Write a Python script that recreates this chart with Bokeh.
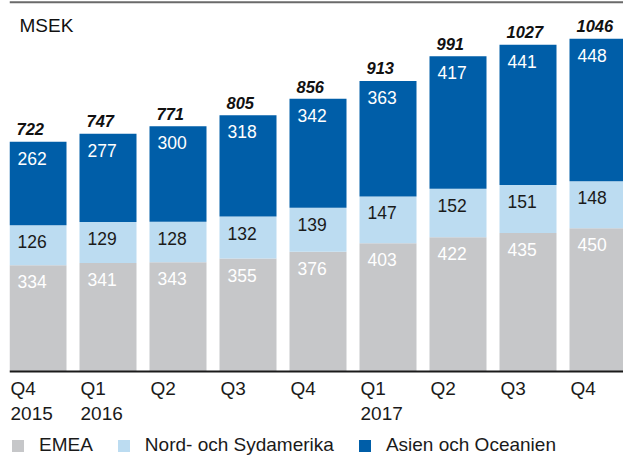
import numpy as np
from bokeh.plotting import figure
from bokeh.models import ColumnDataSource, Span, Label, Legend, LegendItem, Range1d
from bokeh.core.properties import value
from bokeh.embed import file_html
from bokeh.resources import INLINE

# ---- data ----
quarters = ["Q4", "Q1", "Q2", "Q3", "Q4", "Q1", "Q2", "Q3", "Q4"]
years = ["2015", "2016", "", "", "", "2017", "", "", ""]
emea = [334, 341, 343, 355, 376, 403, 422, 435, 450]
nord = [126, 129, 128, 132, 139, 147, 152, 151, 148]
asia = [262, 277, 300, 318, 342, 363, 417, 441, 448]
totals = [722, 747, 771, 805, 856, 913, 991, 1027, 1046]
series_names = ["EMEA", "Nord- och Sydamerika", "Asien och Oceanien"]
colors = ["#c6c7c9", "#bcdcf1", "#005ea8"]

FONT_NAME = "Liberation Sans"
FONT = value(FONT_NAME)
W_PX, H_PX = 623, 457
LEFT = 9
PITCH = 70.0
BAR_W = 57 / PITCH
K = 0.3182          # px per MSEK
BASE = 371          # baseline px from top

idx = np.arange(len(quarters))
e = np.array(emea); n = np.array(nord); a = np.array(asia)
src = ColumnDataSource(dict(
    x=idx + BAR_W / 2, xl=idx,
    EMEA=e, NORD=n, ASIA=a,
    e_top=e, n_top=e + n, a_top=e + n + a,
    e_txt=[str(v) for v in emea], n_txt=[str(v) for v in nord],
    a_txt=[str(v) for v in asia], t_txt=[str(v) for v in totals],
    tot=totals, q=quarters, yr=years,
))

p = figure(width=W_PX, height=H_PX, output_backend="svg", toolbar_location=None,
           x_range=Range1d(0, (W_PX - LEFT) / PITCH),
           y_range=Range1d(-(H_PX - BASE) / K, BASE / K),
           min_border=0, min_border_left=LEFT, min_border_right=0,
           min_border_top=0, min_border_bottom=0)
p.xaxis.visible = False
p.yaxis.visible = False
p.xgrid.grid_line_color = None
p.ygrid.grid_line_color = None
p.outline_line_color = None
p.background_fill_color = "white"
p.border_fill_color = "white"

rs = p.vbar_stack(["EMEA", "NORD", "ASIA"], x="x", width=BAR_W, source=src,
                  fill_color=colors, line_alpha=0)

common = dict(source=src, text_font=FONT, text_align="left", text_baseline="middle")
p.text(x="xl", y="e_top", text="e_txt", x_offset=8, y_offset=16.5,
       text_color="white", text_font_size="17.5px", **common)
p.text(x="xl", y="n_top", text="n_txt", x_offset=8, y_offset=16.5,
       text_color="#1a1a1a", text_font_size="17.5px", **common)
p.text(x="xl", y="a_top", text="a_txt", x_offset=8, y_offset=16.5,
       text_color="white", text_font_size="17.5px", **common)
p.text(x="xl", y="tot", text="t_txt", x_offset=7, y_offset=-12.5,
       text_color="#111111", text_font_size="16.5px", text_font_style="bold italic", **common)

# x labels
p.text(x="xl", y=0, text="q", x_offset=1, y_offset=17,
       text_color="#1a1a1a", text_font_size="19px", **common)
p.text(x="xl", y=0, text="yr", x_offset=1, y_offset=42,
       text_color="#1a1a1a", text_font_size="19px", **common)

p.add_layout(Span(location=0, dimension="width", line_color="#1a1a1a", line_width=2))
p.add_layout(Span(location=(BASE - 1.8) / K, dimension="width", line_color="#6a6a6a", line_width=2))

p.add_layout(Label(x=10, y=H_PX - 25, x_units="screen", y_units="screen", text="MSEK",
                   text_font=FONT_NAME, text_font_size="19px", text_baseline="middle",
                   text_color="#111111"))

legend = Legend(items=[LegendItem(label=nm, renderers=[r]) for nm, r in zip(series_names, rs)],
                orientation="horizontal", location=(1, 1), padding=0, margin=0,
                spacing=23, label_standoff=14, glyph_width=15, glyph_height=15,
                label_height=16,
                label_text_font=FONT_NAME, label_text_font_size="19px", label_text_color="#1a1a1a",
                background_fill_alpha=0, border_line_alpha=0)
p.add_layout(legend)

open("out.html", "w").write(file_html(p, INLINE))
